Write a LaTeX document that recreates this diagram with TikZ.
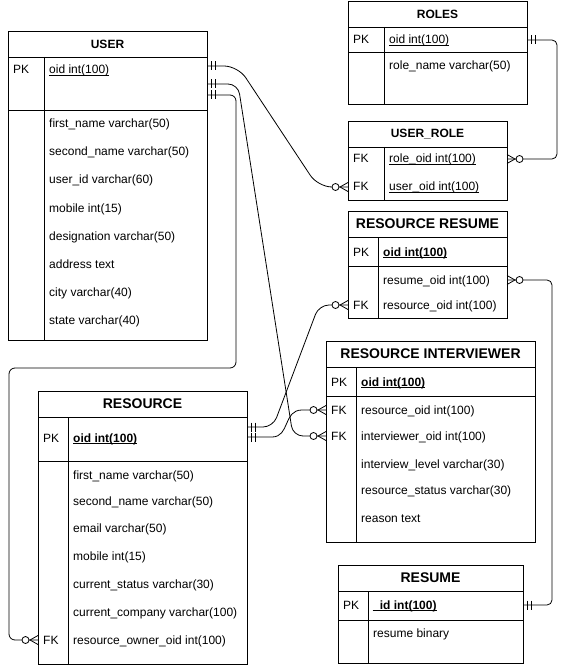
\documentclass[tikz,border=0pt]{standalone}
\usepackage{fontspec}
\setmainfont{Liberation Sans}
\begin{document}
\begin{tikzpicture}[x=1pt,y=-1pt,
  tbl/.style={draw, line width=0.9pt, inner sep=0, anchor=north west},
  tline/.style={line width=0.9pt},
  ttl/.style={inner sep=0, font=\bfseries\fontsize{12}{14}\selectfont},
  ttlL/.style={inner sep=0, font=\bfseries\fontsize{14}{16}\selectfont},
  fld/.style={anchor=west, inner sep=0, font=\fontsize{12}{14}\selectfont, text height=8.5pt, text depth=0.5pt},
  conn/.style={line width=0.8pt},
  mone/.pic={\draw[line width=0.8pt] (4,-4.5)--(4,4.5) (8,-4.5)--(8,4.5);},
  zmany/.pic={\draw[line width=0.8pt] (0,-4.5)--(8,0)--(0,4.5);
              \draw[line width=0.8pt, fill=white] (12.5,0) circle (3.5pt);}
]
\newcommand\ulx[1]{\underline{\smash{#1}}}
\useasboundingbox (0,0) rectangle (567,668);

% ---------- USER ----------
\node[tbl, minimum width=199pt, minimum height=309pt] (user) at (8,31) {};
\draw[tline] (8,57) -- (207,57) (8,110) -- (207,110) (44,57) -- (44,340);
\node[ttl] (userT) at (107.5,44) {USER};
\node[fld] (userPK) at (13,70) {PK};
\node[fld] (userF0) at (49,70) {\ulx{oid int(100)}};
\node[fld] (userF1) at (49,124) {first\_name varchar(50)};
\node[fld] (userF2) at (49,152) {second\_name varchar(50)};
\node[fld] (userF3) at (49,180) {user\_id varchar(60)};
\node[fld] (userF4) at (49,208) {mobile int(15)};
\node[fld] (userF5) at (49,236) {designation varchar(50)};
\node[fld] (userF6) at (49,264) {address text};
\node[fld] (userF7) at (49,292) {city varchar(40)};
\node[fld] (userF8) at (49,320) {state varchar(40)};

% ---------- ROLES ----------
\node[tbl, minimum width=179pt, minimum height=103pt] (roles) at (348,1) {};
\draw[tline] (348,27) -- (527,27) (348,52) -- (527,52) (384,27) -- (384,104);
\node[ttl] (rolesT) at (437.5,14) {ROLES};
\node[fld] (rolesPK) at (353,40) {PK};
\node[fld] (rolesF0) at (389,40) {\ulx{oid int(100)}};
\node[fld] (rolesF1) at (389,66) {role\_name varchar(50)};

% ---------- USER_ROLE ----------
\node[tbl, minimum width=159pt, minimum height=79pt] (urole) at (348,121) {};
\draw[tline] (348,147) -- (507,147) (384,147) -- (384,200);
\node[ttl] (uroleT) at (427.5,134) {USER\_ROLE};
\node[fld] (uroleK1) at (353,159) {FK};
\node[fld] (uroleF1) at (389,159) {\ulx{role\_oid int(100)}};
\node[fld] (uroleK2) at (353,187) {FK};
\node[fld] (uroleF2) at (389,187) {\ulx{user\_oid int(100)}};

% ---------- RESOURCE RESUME ----------
\node[tbl, minimum width=159pt, minimum height=107pt] (rr) at (348,211) {};
\draw[tline] (348,237) -- (507,237) (348,266) -- (507,266) (378,237) -- (378,318);
\node[ttlL] (rrT) at (427.5,224) {RESOURCE RESUME};
\node[fld] (rrPK) at (353,252) {PK};
\node[fld] (rrF0) at (383,252) {\bfseries\ulx{oid int(100)}};
\node[fld] (rrF1) at (383,280) {resume\_oid int(100)};
\node[fld] (rrK2) at (353,305) {FK};
\node[fld] (rrF2) at (383,305) {resource\_oid int(100)};

% ---------- RESOURCE INTERVIEWER ----------
\node[tbl, minimum width=209pt, minimum height=201pt] (ri) at (326,341) {};
\draw[tline] (326,367) -- (535,367) (326,396) -- (535,396) (356,367) -- (356,542);
\node[ttlL] (riT) at (430.5,354) {RESOURCE INTERVIEWER};
\node[fld] (riPK) at (331,382) {PK};
\node[fld] (riF0) at (361,382) {\bfseries\ulx{oid int(100)}};
\node[fld] (riK1) at (331,410) {FK};
\node[fld] (riF1) at (361,410) {resource\_oid int(100)};
\node[fld] (riK2) at (331,436) {FK};
\node[fld] (riF2) at (361,436) {interviewer\_oid int(100)};
\node[fld] (riF3) at (361,464) {interview\_level varchar(30)};
\node[fld] (riF4) at (361,490) {resource\_status varchar(30)};
\node[fld] (riF5) at (361,518) {reason text};

% ---------- RESOURCE ----------
\node[tbl, minimum width=209pt, minimum height=273pt] (res) at (38,391) {};
\draw[tline] (38,417) -- (247,417) (38,461) -- (247,461) (68,417) -- (68,664);
\node[ttlL] (resT) at (142.5,404) {RESOURCE};
\node[fld] (resPK) at (43,438) {PK};
\node[fld] (resF0) at (73,438) {\bfseries\ulx{oid int(100)}};
\node[fld] (resF1) at (73,475) {first\_name varchar(50)};
\node[fld] (resF2) at (73,501) {second\_name varchar(50)};
\node[fld] (resF3) at (73,528) {email varchar(50)};
\node[fld] (resF4) at (73,556) {mobile int(15)};
\node[fld] (resF5) at (73,584) {current\_status varchar(30)};
\node[fld] (resF6) at (73,612) {current\_company varchar(100)};
\node[fld] (resK7) at (43,640) {FK};
\node[fld] (resF7) at (73,640) {resource\_owner\_oid int(100)};

% ---------- RESUME ----------
\node[tbl, minimum width=185pt, minimum height=98pt] (resume) at (338,565) {};
\draw[tline] (338,591) -- (523,591) (338,620) -- (523,620) (368,591) -- (368,663);
\node[ttlL] (resumeT) at (430.5,578) {RESUME};
\node[fld] (resumePK) at (343,605) {PK};
\node[fld] (resumeF0) at (373,605) {\bfseries\ulx{\_id int(100)}};
\node[fld] (resumeF1) at (373,633) {resume binary};

% ---------- connector end points ----------
\coordinate (u1) at (207,66);
\coordinate (u2) at (207,84);
\coordinate (u3) at (207,95);
\coordinate (urUser) at (348,187);
\coordinate (urRole) at (507,159);
\coordinate (rolesPKe) at (527,40);
\coordinate (riInt) at (326,436);
\coordinate (riRes) at (326,410);
\coordinate (resOwner) at (38,640);
\coordinate (resPK1) at (247,427);
\coordinate (resPK2) at (247,437);
\coordinate (rrRes) at (348,305);
\coordinate (rrResume) at (507,280);
\coordinate (resumePKe) at (523,605);

% ---------- connectors ----------
\draw[conn, rounded corners=14pt] (u1) -- (238,66) -- (318,187) -- (urUser);
\draw[conn, rounded corners=10pt] (u2) -- (238,84) -- (293,436) -- (riInt);
\draw[conn, rounded corners=6pt] (u3) -- (236,95) -- (236,368) -- (9,368) -- (9,640) -- (resOwner);
\draw[conn, rounded corners=5pt] (rolesPKe) -- (557,40) -- (557,159) -- (urRole);
\draw[conn, rounded corners=10pt] (resPK1) -- (273,427) -- (319,305) -- (rrRes);
\draw[conn] (resPK2) -- (272,437) .. controls (290,437) and (283,410) .. (302,410) -- (riRes);
\draw[conn, rounded corners=5pt] (rrResume) -- (552,280) -- (552,605) -- (resumePKe);

% ---------- cardinality markers ----------
\pic at (u1) {mone};
\pic at (u2) {mone};
\pic at (u3) {mone};
\pic at (rolesPKe) {mone};
\pic at (resPK1) {mone};
\pic at (resPK2) {mone};
\pic at (resumePKe) {mone};
\pic[rotate=180] at (urUser) {zmany};
\pic at (urRole) {zmany};
\pic[rotate=180] at (riInt) {zmany};
\pic[rotate=180] at (riRes) {zmany};
\pic[rotate=180] at (resOwner) {zmany};
\pic[rotate=180] at (rrRes) {zmany};
\pic at (rrResume) {zmany};
\end{tikzpicture}
\end{document}
